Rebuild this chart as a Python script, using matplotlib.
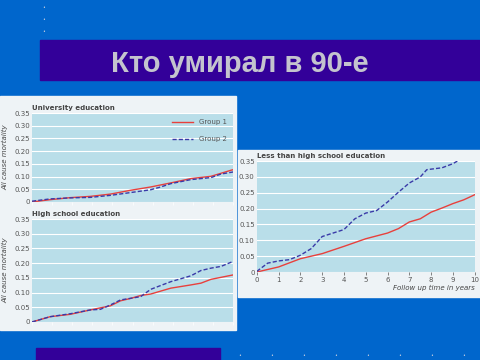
import numpy as np
import matplotlib.pyplot as plt
from matplotlib.patches import Rectangle

# University education (years, mortality)
uni_t1 = [0, 0.9, 1.9, 2.9, 3.9, 4.9, 5.9, 6.9, 7.9, 8.9, 9.9, 10]
uni_g1 = [0, 0.009, 0.017, 0.022, 0.031, 0.046, 0.059, 0.075, 0.092, 0.101, 0.125, 0.127]
uni_t2 = [0, 0.9, 1.9, 2.9, 3.9, 4.9, 5.9, 6.4, 6.9, 7.9, 8.9, 9.4, 10]
uni_g2 = [0.003, 0.012, 0.016, 0.018, 0.026, 0.037, 0.048, 0.059, 0.072, 0.088, 0.096, 0.11, 0.118]

# High school education
hs_t1 = [0, 0.9, 1.9, 2.9, 3.9, 4.4, 4.9, 5.4, 5.9, 6.9, 7.9, 8.4, 8.9, 10]
hs_g1 = [0, 0.018, 0.026, 0.041, 0.055, 0.072, 0.08, 0.09, 0.095, 0.115, 0.126, 0.132, 0.145, 0.16]
hs_t2 = [0, 0.9, 1.9, 2.9, 3.4, 3.9, 4.4, 5.4, 5.9, 6.9, 7.9, 8.4, 8.9, 9.4, 10]
hs_g2 = [0, 0.018, 0.028, 0.041, 0.043, 0.058, 0.075, 0.086, 0.111, 0.137, 0.157, 0.175, 0.183, 0.189, 0.206]

# Less than high school education
ls_t1 = [0, 1, 2, 3, 4, 5, 6, 6.5, 7, 7.5, 8, 8.5, 9, 9.5, 10]
ls_g1 = [0, 0.016, 0.042, 0.058, 0.081, 0.105, 0.123, 0.137, 0.158, 0.168, 0.189, 0.202, 0.216, 0.228, 0.244]
ls_t2 = [0, 0.5, 1, 1.5, 2, 2.5, 3, 3.5, 4, 4.5, 5, 5.5, 6, 6.5, 7, 7.5, 7.8, 8.5, 9, 9.2]
ls_g2 = [0.002, 0.028, 0.035, 0.039, 0.053, 0.074, 0.112, 0.123, 0.134, 0.168, 0.186, 0.194,
         0.221, 0.252, 0.281, 0.30, 0.323, 0.329, 0.342, 0.35]

yticks = [0, 0.05, 0.10, 0.15, 0.20, 0.25, 0.30, 0.35]
ytick_labels = ['0', '0.05', '0.10', '0.15', '0.20', '0.25', '0.30', '0.35']

BLUE_BG = '#0066CC'
PURPLE = '#330099'
PANEL = '#EEF3F6'
AX_BG = '#B9DEE9'
RED = '#E8403C'
DBLUE = '#3A3AA8'

fig = plt.figure(figsize=(4.8, 3.6), dpi=100)
fig.patch.set_facecolor(BLUE_BG)

# slide decoration
fig.add_artist(Rectangle((0.0833, 0.778), 0.9167, 0.111, transform=fig.transFigure,
                         color=PURPLE, zorder=0))
fig.text(0.5, 0.823, 'Кто умирал в 90-е', ha='center', va='center', fontsize=21,
         fontweight='bold', color='#C4C4CE', family='Liberation Sans')
fig.add_artist(Rectangle((0.075, 0.0), 0.383, 0.033, transform=fig.transFigure,
                         color=PURPLE, zorder=0))
for yy in [7, 20, 31]:
    fig.text(44 / 480, 1 - yy / 360, '•', color='#C8D0E0', fontsize=3.5, ha='center', va='center')
for xx in range(240, 480, 32):
    fig.text(xx / 480, 1 - 356 / 360, '•', color='#C8D0E0', fontsize=3.5, ha='center', va='center')

fig.add_artist(Rectangle((0.0, 0.0833), 0.4917, 0.65, transform=fig.transFigure,
                         color=PANEL, zorder=0))
fig.add_artist(Rectangle((0.496, 0.175), 0.504, 0.408, transform=fig.transFigure,
                         color=PANEL, zorder=0))


def style(ax, title, xlabels):
    ax.set_facecolor(AX_BG)
    ax.set_xlim(0, 10)
    ax.set_ylim(0, 0.35)
    ax.set_yticks(yticks)
    ax.set_yticklabels(ytick_labels)
    ax.set_xticks(range(11))
    if not xlabels:
        ax.set_xticklabels([])
    ax.grid(axis='y', color='white', lw=0.8)
    ax.set_axisbelow(True)
    for s in ax.spines.values():
        s.set_visible(False)
    ax.tick_params(labelsize=5, colors='#555555', length=2, width=0.5, pad=1.5)
    ax.tick_params(axis='x', colors='white', labelcolor='#555555')
    ax.tick_params(axis='y', length=0)
    ax.text(0.0, 1.02, title, transform=ax.transAxes, fontsize=5, fontweight='bold',
            color='#444444', va='bottom')


ax1 = fig.add_axes([0.0667, 0.439, 0.419, 0.247])
ax1.plot(uni_t1, uni_g1, color=RED, lw=1, label='Group 1')
ax1.plot(uni_t2, uni_g2, color=DBLUE, lw=1, ls=(0, (3, 1.5)), label='Group 2')
style(ax1, 'University education', False)
ax1.legend(loc='upper right', frameon=False, fontsize=5, labelcolor='#555555',
           handlelength=3, labelspacing=1.6)
ax1.set_ylabel('All cause mortality', fontsize=5, style='italic', color='#444444', labelpad=4)

ax2 = fig.add_axes([0.0667, 0.1056, 0.419, 0.286])
ax2.plot(hs_t1, hs_g1, color=RED, lw=1)
ax2.plot(hs_t2, hs_g2, color=DBLUE, lw=1, ls=(0, (3, 1.5)))
style(ax2, 'High school education', False)
ax2.set_ylabel('All cause mortality', fontsize=5, style='italic', color='#444444', labelpad=4)

ax3 = fig.add_axes([0.535, 0.2444, 0.454, 0.308])
ax3.plot(ls_t1, ls_g1, color=RED, lw=1)
ax3.plot(ls_t2, ls_g2, color=DBLUE, lw=1, ls=(0, (3, 1.5)))
style(ax3, 'Less than high school education', True)
ax3.tick_params(axis='x', colors='#555555')
ax3.set_xlabel('Follow up time in years', fontsize=5, style='italic', color='#444444')
ax3.xaxis.set_label_coords(1.0, -0.12)
ax3.xaxis.label.set_ha('right')

fig.savefig('out.png', dpi=100, facecolor=fig.get_facecolor())
